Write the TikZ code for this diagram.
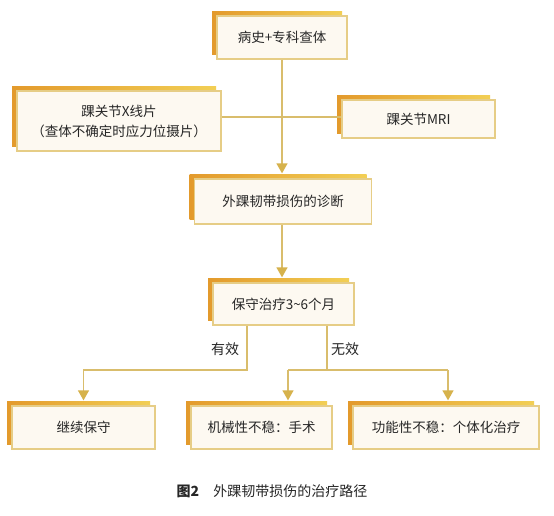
\documentclass[tikz,border=0pt]{standalone}
\usepackage{fontspec}
\setmainfont{Noto Sans CJK SC}
\usetikzlibrary{arrows.meta,shadows}

\definecolor{boxline}{HTML}{E6CD86}
\definecolor{boxfill}{HTML}{FDF9F1}
\definecolor{shadeyellow}{HTML}{F2CF55}
\definecolor{shadeorange}{HTML}{E39A2C}
\definecolor{linegold}{HTML}{D9BD6C}
\definecolor{tipgold}{HTML}{D6B24C}
\definecolor{textgray}{HTML}{262626}

\tikzset{
  flowbox/.style={draw=boxline, line width=1.3pt, fill=boxfill, text=textgray,
    font=\fontsize{13.5}{20}\selectfont, inner sep=0pt, align=center,
    general shadow={shadow xshift=-5pt, shadow yshift=5pt, draw=none,
      left color=shadeorange, right color=shadeyellow}},
  link/.style={draw=linegold, line width=1.3pt},
  linkarrow/.style={link, -{Triangle[width=11pt,length=10pt,fill=tipgold,color=tipgold]}, shorten >=5pt},
  branchlabel/.style={text=textgray, font=\fontsize{14}{16}\selectfont},
}

\begin{document}
\begin{tikzpicture}[x=1pt, y=-1pt]
    \fill[white] (0,0) rectangle (554,515);
    \useasboundingbox (0,0) rectangle (554,515);

    % Examination
    \node[flowbox, minimum width=130pt, minimum height=43pt] (hist) at (282,37.5) {病史+专科查体};
    \node[flowbox, minimum width=204pt, minimum height=60pt] (xray) at (119,121) {踝关节X线片\\（查体不确定时应力位摄片）};
    \node[flowbox, minimum width=153pt, minimum height=38pt] (mri) at (418.5,119) {踝关节MRI};

    % Diagnosis and treatment
    \node[flowbox, minimum width=177pt, minimum height=45pt] (diag) at (283,201.5) {外踝韧带损伤的诊断};
    \node[flowbox, minimum width=141pt, minimum height=42pt] (cons) at (283.5,304) {保守治疗3\textasciitilde 6个月};

    % Outcomes
    \node[flowbox, minimum width=143pt, minimum height=43pt] (cont) at (83.5,427.5) {继续保守};
    \node[flowbox, minimum width=141pt, minimum height=43pt] (mech) at (261.5,427.5) {机械性不稳：手术};
    \node[flowbox, minimum width=186pt, minimum height=43pt] (func) at (446,427.5) {功能性不稳：个体化治疗};

    % Connectors
    \coordinate (junc) at (282,117);
    \coordinate (lft) at (247,370);
    \coordinate (rgt) at (327,370);
    \coordinate (rl) at (288,370);
    \coordinate (rr) at (448,370);
    \draw[linkarrow] (hist.south -| junc) -- (diag.north -| junc);
    \draw[link] (xray.east |- junc) -- (mri.west |- junc);
    \draw[linkarrow] (diag.south -| junc) -- (cons.north -| junc);
    \draw[linkarrow] (cons.south -| lft) -- (lft) -| (cont.north);
    \draw[link] (cons.south -| rgt) -- (rgt);
    \draw[link] (rl) -- (rr);
    \draw[linkarrow] (rl) -- (mech.north -| rl);
    \draw[linkarrow] (rr) -- (func.north -| rr);

    % Branch labels
    \node[branchlabel] (yes) at (225,349) {有效};
    \node[branchlabel] (no) at (345,349) {无效};

    % Caption
    \node[text=textgray, font=\fontsize{14}{16}\selectfont] (cap) at (272,491) {{\bfseries 图2}\hspace{1em}外踝韧带损伤的治疗路径};
\end{tikzpicture}
\end{document}
